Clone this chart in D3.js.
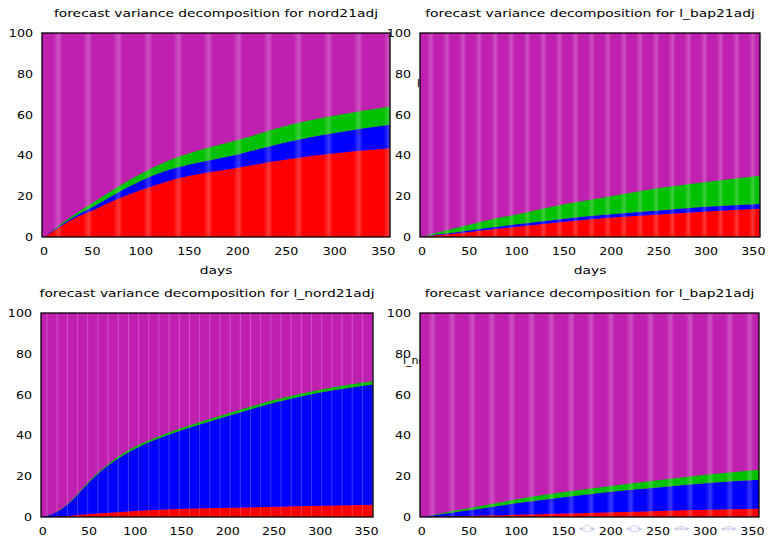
<!DOCTYPE html>
<html lang="en">
<head>
<meta charset="UTF-8">
<title>Forecast variance decomposition</title>
<script src="https://d3js.org/d3.v7.min.js"></script>
<style>
  body { margin: 0; background: #fff; }
  svg { display: block; font-family: "DejaVu Sans", Verdana, sans-serif; }
</style>
</head>
<body>
<div id="chart"></div>
<script>
// horizon (days) at which each decomposition was read
const days = [0, 10, 25, 40, 50, 75, 100, 125, 150, 200, 250, 300, 357];

// shares (%) per shock, per forecast variable; the rest (magenta) fills up to 100
const nordRed    = [0, 3, 7.5, 11, 13, 18.5, 23, 27, 30, 34, 38, 41, 43.5];
const nordBlue   = [0, 0.3, 0.6, 1.2, 1.7, 3, 4.5, 5.3, 5.5, 6.5, 8.5, 10, 11.5];
const nordGreen  = [0, 0.3, 0.8, 1.5, 2, 2.8, 3.5, 4.5, 5.5, 7, 8, 8.5, 9];

const bapRed     = [0, 0.6, 1.3, 2, 2.5, 3.8, 5, 6.2, 7.5, 9.5, 11, 12.5, 13.8];
const bapBlue    = [0, 0.2, 0.4, 0.6, 0.7, 1, 1.2, 1.4, 1.5, 1.7, 2, 2.3, 2.4];
const bapGreen   = [0, 0.7, 1.5, 2.3, 2.8, 4, 4.8, 6, 7, 8.8, 11, 12.2, 13.8];

const lnordRed   = [0, 0.1, 0.5, 1.1, 1.5, 2.2, 3, 3.5, 4, 4.5, 5, 5.5, 6];
const lnordBlue  = [0, 1.2, 5, 11, 15.5, 24.5, 30.5, 35, 38.5, 45, 51, 55.5, 59];
const lnordGreen = [0, 0.1, 0.3, 0.5, 0.6, 0.8, 1, 1, 1.1, 1.2, 1.3, 1.4, 1.5];

const lbapRed    = [0, 0.1, 0.25, 0.4, 0.5, 0.8, 1.1, 1.4, 1.7, 2.3, 3, 3.5, 4];
const lbapBlue   = [0, 0.6, 1.5, 2.3, 2.8, 4.2, 5.6, 6.8, 8, 10.1, 11.5, 13, 14.2];
const lbapGreen  = [0, 0.2, 0.5, 0.8, 1, 1.5, 2, 2.3, 2.5, 2.8, 3.5, 4.2, 5];

const xTicks = [0, 50, 100, 150, 200, 250, 300, 350];
const yTicks = [0, 20, 40, 60, 80, 100];
const titles = [
  "forecast variance decomposition for nord21adj",
  "forecast variance decomposition for l_bap21adj",
  "forecast variance decomposition for l_nord21adj",
  "forecast variance decomposition for l_bap21adj"
];
// beamer navigation groups, each sitting between two x tick labels (days)
const navGroups = ["◂▢▸", "◂◫▸", "◂≡▸", "◂≡▸"];
const navDays = [175, 225, 275, 325];

const colors = { red: "#ff0000", blue: "#0000ff", green: "#00c000", rest: "#c020b0" };

const panels = [
  { title: titles[0], red: nordRed,  blue: nordBlue,  green: nordGreen,  x0: 42,  x1: 390, y0: 33,  y1: 237, xlabel: true,  step: 31, sw: 9 },
  { title: titles[1], red: bapRed,   blue: bapBlue,   green: bapGreen,   x0: 420, x1: 760, y0: 33,  y1: 237, xlabel: true,  step: 17, sw: 7 },
  { title: titles[2], red: lnordRed, blue: lnordBlue, green: lnordGreen, x0: 41,  x1: 373, y0: 313, y1: 517, xlabel: false, step: 11, sw: 2 },
  { title: titles[3], red: lbapRed,  blue: lbapBlue,  green: lbapGreen,  x0: 420, x1: 759, y0: 313, y1: 517, xlabel: false, step: 21, sw: 8 }
];

const W = 769, H = 537;
const svg = d3.select("#chart").append("svg").attr("width", W).attr("height", H);

const defs = svg.append("defs");
const grad = defs.append("linearGradient").attr("id", "stripe");
grad.append("stop").attr("offset", "0%").attr("stop-color", "#fff").attr("stop-opacity", 0);
grad.append("stop").attr("offset", "60%").attr("stop-color", "#fff").attr("stop-opacity", 0.22);
grad.append("stop").attr("offset", "100%").attr("stop-color", "#fff").attr("stop-opacity", 0.04);

// stray key fragments that peek out between the panels
svg.append("text").attr("x", 403).attr("y", 364).attr("font-size", 11).text("l_nord");
svg.append("text").attr("x", 417).attr("y", 87).attr("font-size", 11).text("l_nord");

// helper: horizontally stretched text (the original bitmap was widened)
function label(g, x, y, txt, size, anchor, sx) {
  g.append("text")
    .attr("transform", `translate(${x},${y}) scale(${sx},1)`)
    .attr("text-anchor", anchor)
    .attr("font-size", size)
    .attr("fill", "#000")
    .text(txt);
}

let lastX = null;

panels.forEach((p, i) => {
  const x = d3.scaleLinear().domain([-2, 357]).range([p.x0, p.x1]);
  const y = d3.scaleLinear().domain([0, 100]).range([p.y1, p.y0]);
  lastX = x;

  const rows = days.map((d, k) => ({ day: d, red: p.red[k], blue: p.blue[k], green: p.green[k] }));
  const series = d3.stack().keys(["red", "blue", "green"])(rows);

  const g = svg.append("g");
  const clipId = "clip" + i;
  defs.append("clipPath").attr("id", clipId)
    .append("rect").attr("x", p.x0).attr("y", p.y0).attr("width", p.x1 - p.x0).attr("height", p.y1 - p.y0);

  const plot = g.append("g").attr("clip-path", `url(#${clipId})`);
  plot.append("rect")
    .attr("x", p.x0).attr("y", p.y0)
    .attr("width", p.x1 - p.x0).attr("height", p.y1 - p.y0)
    .attr("fill", colors.rest);

  const area = d3.area()
    .x(d => x(d.data.day))
    .y0(d => y(d[0]))
    .y1(d => y(d[1]))
    .curve(d3.curveMonotoneX);

  plot.selectAll("path.layer").data(series).join("path")
    .attr("class", "layer")
    .attr("d", area)
    .attr("fill", s => colors[s.key]);

  // light vertical banding from the bar rendering
  plot.selectAll("rect.stripe").data(d3.range(p.step * 0.3, 357, p.step)).join("rect")
    .attr("class", "stripe")
    .attr("x", d => x(d))
    .attr("y", p.y0)
    .attr("width", p.sw)
    .attr("height", p.y1 - p.y0)
    .attr("fill", "url(#stripe)");

  g.append("rect")
    .attr("x", p.x0).attr("y", p.y0)
    .attr("width", p.x1 - p.x0).attr("height", p.y1 - p.y0)
    .attr("fill", "none").attr("stroke", "#000").attr("stroke-width", 1.3);

  yTicks.forEach(t => label(g, p.x0 - 9, y(t) + 4, t, 11, "end", 1.15));
  xTicks.forEach(t => label(g, x(t), p.y1 + 18, t, 11, "middle", 1.15));

  label(g, (p.x0 + p.x1) / 2, p.y0 - 16, p.title, 11, "middle", 1.26);
  if (p.xlabel) label(g, (p.x0 + p.x1) / 2, p.y1 + 37, "days", 11, "middle", 1.26);
});

// faint beamer navigation symbols
svg.selectAll("text.nav").data(navGroups).join("text")
  .attr("class", "nav")
  .attr("x", (d, k) => lastX(navDays[k]))
  .attr("y", 531)
  .attr("text-anchor", "middle")
  .attr("font-size", 8.5)
  .attr("fill", "#c8c8e8")
  .text(d => d);
</script>
</body>
</html>
